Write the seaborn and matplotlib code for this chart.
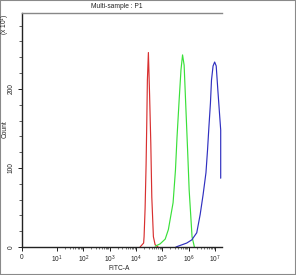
import matplotlib
matplotlib.use("Agg")
import matplotlib.pyplot as plt
import matplotlib.patches as mpatches
from matplotlib.ticker import FixedLocator, NullFormatter
import pandas as pd
import seaborn as sns

# ---- data (FITC-A intensity vs. event count) ----
red_x = [1.43e4, 1.95e4, 2.03e4, 2.22e4, 2.42e4, 2.58e4, 2.71e4, 2.96e4,
         3.29e4, 3.65e4, 3.99e4, 4.59e4, 5.32e4, 6.9e4]
red_y = [0, 5, 13, 49, 104, 161, 211, 246, 192, 132, 63, 13, 3, 0]

green_x = [5.37e4, 8.3e4, 1.29e5, 1.70e5, 2.57e5, 3.16e5, 3.63e5, 4.37e5,
           5.13e5, 5.89e5, 6.76e5, 7.94e5, 9.33e5, 1.05e6, 1.20e6, 1.35e6, 1.66e6]
green_y = [1, 4, 10, 22, 56, 97, 139, 186, 224, 243, 230, 173, 116, 72, 41, 13, 0]

blue_x = [3.3e5, 4.8e5, 8.5e5, 1.32e6, 2.04e6, 2.75e6, 3.55e6, 4.57e6, 5.25e6,
          5.89e6, 6.76e6, 7.41e6, 8.51e6, 9.77e6, 1.12e7, 1.29e7, 1.48e7,
          1.66e7, 1.66e7]
blue_y = [0, 2, 5, 9, 18, 41, 66, 94, 123, 151, 182, 211, 229, 234, 229,
          199, 171, 148, 87]

x_ticks = [0, 1e1, 1e2, 1e3, 1e4, 1e5, 1e6, 1e7]
x_tick_labels = ["0", "$10^{1}$", "$10^{2}$", "$10^{3}$", "$10^{4}$",
                 "$10^{5}$", "$10^{6}$", "$10^{7}$"]
y_ticks = [0, 100, 200]
y_tick_labels = ["0", "100", "200"]

sns.set_theme(style="white")
plt.rcParams["font.family"] = ["Liberation Sans", "DejaVu Sans"]
plt.rcParams["mathtext.fontset"] = "custom"
plt.rcParams["mathtext.rm"] = "Liberation Sans"

W, H = 296, 275
fig = plt.figure(figsize=(W / 100, H / 100), dpi=100)
fig.patch.set_facecolor("white")
ax = fig.add_axes([22 / W, (H - 247) / H, 200 / W, (247 - 13) / H])
ax.set_facecolor("white")

frames = []
for name, xs, ys in [("red", red_x, red_y), ("green", green_x, green_y),
                     ("blue", blue_x, blue_y)]:
    frames.append(pd.DataFrame({"x": xs, "y": ys, "s": name}))
df = pd.concat(frames, ignore_index=True)

colors = {"red": "#d83030", "green": "#3ae03a", "blue": "#3030c0"}
for name, sub in df.groupby("s", sort=False):
    sns.lineplot(data=sub, x="x", y="y", ax=ax, color=colors[name],
                 linewidth=0.85, sort=False, estimator=None, legend=False)

ax.set_xscale("symlog", linthresh=10, linscale=1.2)
ax.set_xlim(0, 1.86e7)
ax.set_ylim(0, 296)

ax.xaxis.set_major_locator(FixedLocator(x_ticks))
ax.set_xticklabels(x_tick_labels)
minor = [m * 10 ** k for k in range(1, 7) for m in range(2, 10)]
ax.xaxis.set_minor_locator(FixedLocator(minor))
ax.xaxis.set_minor_formatter(NullFormatter())

ax.yaxis.set_major_locator(FixedLocator(y_ticks))
ax.set_yticklabels(y_tick_labels, rotation=90, va="center")
ax.yaxis.set_minor_locator(FixedLocator(list(range(20, 296, 20))))

ax.tick_params(axis="x", which="major", direction="out", length=3, width=0.7,
               labelsize=4.8, pad=2, colors="#222222", bottom=True)
ax.tick_params(axis="x", which="minor", direction="out", length=1.6,
               width=0.5, colors="#444444", bottom=True)
ax.tick_params(axis="y", which="major", direction="out", length=3, width=0.7,
               labelsize=4.8, pad=2.5, colors="#222222", left=True)
ax.tick_params(axis="y", which="minor", direction="out", length=2.5,
               width=0.6, colors="#444444", left=True)

for side in ["left", "bottom"]:
    ax.spines[side].set_color("#222222")
    ax.spines[side].set_linewidth(1.0)
ax.spines["top"].set_color("#888888")
ax.spines["top"].set_linewidth(1.0)
ax.spines["right"].set_visible(False)

ax.set_xlabel("")
ax.set_ylabel("")

fig.text(117 / W, 1 - 7 / H, "Multi-sample : P1", ha="center", va="center",
         fontsize=4.8, color="#222222")
fig.text(119 / W, 1 - 268 / H, "FITC-A", ha="center", va="center",
         fontsize=4.8, color="#222222")
fig.text(5.5 / W, 1 - 129 / H, "Count", ha="center", va="center",
         rotation=90, fontsize=4.8, color="#222222")
fig.text(5.5 / W, 1 - 24 / H, "(x 10$^{1}$)", ha="center", va="center",
         rotation=90, fontsize=4.8, color="#222222")

fig.patches.append(mpatches.Rectangle((0, 0), 1, 1, transform=fig.transFigure,
                                      fill=False, edgecolor="#8a8a8a",
                                      linewidth=1.5, figure=fig))

fig.savefig("out.png", dpi=100, facecolor="white")
